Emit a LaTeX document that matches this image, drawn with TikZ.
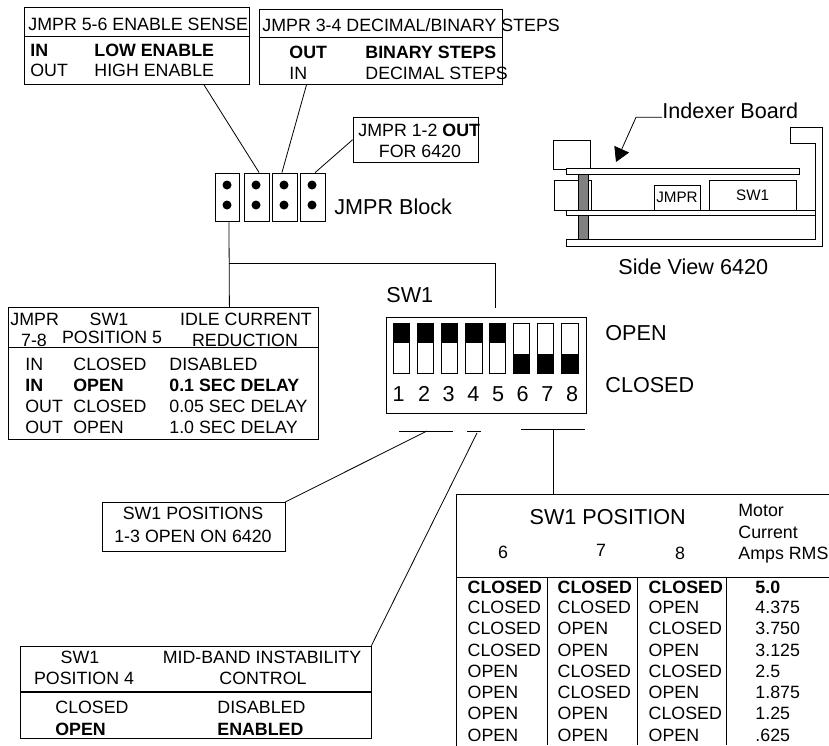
\documentclass[tikz,border=0pt]{standalone}
\usepackage{fontspec}
\setmainfont{Liberation Sans}
\usepackage{tikz}
\usetikzlibrary{arrows.meta}
\newcommand{\smtxt}{\fontsize{17.8}{20}\selectfont}
\newcommand{\bgtxt}{\fontsize{21.6}{24}\selectfont}
\newcommand{\tntxt}{\fontsize{15.2}{17}\selectfont}

\begin{document}
\begin{tikzpicture}[x=1pt, y=-1pt, line width=.8pt]

\tikzstyle{box} = [rectangle, draw, inner sep=0]
\tikzstyle{txt} = [inner sep=0, font=\smtxt, text height=12.8pt, text depth=0pt]
\tikzstyle{ltxt} = [txt, anchor=west]
\tikzstyle{big} = [inner sep=0, anchor=west, font=\bgtxt, text height=15.5pt, text depth=0pt]
\tikzstyle{pin} = [circle, fill=black, inner sep=0, minimum size=9pt]
\tikzstyle{slot} = [rectangle, draw, inner sep=0, minimum width=16.5pt, minimum height=50pt]

\useasboundingbox (0,0) rectangle (829,745);

% jumper notes along the top
\node[box, minimum width=225.5pt, minimum height=76.5pt] (sense) at (136.75,45.75) {};
\node[box, minimum width=243pt, minimum height=75pt] (steps) at (381,46.5) {};
\node[box, minimum width=125.5pt, minimum height=45.5pt] (six) at (415.75,139.75) {};
\draw (sense.west |- 0,36) -- (sense.east |- 0,36);
\draw (steps.west |- 0,37) -- (steps.east |- 0,37);

\node[ltxt] (senset) at (28,24) {JMPR 5-6 ENABLE SENSE};
\node[ltxt] (sensea) at (30,50) {\bfseries IN};
\node[ltxt] (senseb) at (94,50) {\bfseries LOW ENABLE};
\node[ltxt] (sensec) at (30,70) {OUT};
\node[ltxt] (sensed) at (94,70) {HIGH ENABLE};

\node[ltxt] (stepst) at (262,25.5) {JMPR 3-4 DECIMAL/BINARY STEPS};
\node[ltxt] (stepsa) at (289,52.5) {\bfseries OUT};
\node[ltxt] (stepsb) at (365,52.5) {\bfseries BINARY STEPS};
\node[ltxt] (stepsc) at (289,73) {IN};
\node[ltxt] (stepsd) at (365,73) {DECIMAL STEPS};

\node[ltxt] (sixa) at (358,130) {JMPR 1-2 \bfseries OUT};
\node[txt] (sixb) at (420,151) {FOR 6420};

% jumper block
\node[box, minimum width=24.5pt, minimum height=48pt] (ja) at (227.25,197) {};
\node[box, minimum width=25pt, minimum height=48pt] (jb) at (257,197) {};
\node[box, minimum width=25pt, minimum height=48pt] (jc) at (284.5,197) {};
\node[box, minimum width=25pt, minimum height=48pt] (jd) at (312.5,197) {};
\foreach \n/\x in {a/227, b/256, c/284, d/312} {
  \node[pin] (p\n) at (\x,185) {};
  \node[pin] (q\n) at (\x,205) {};
}
\node[big] (block) at (334,207) {JMPR Block};

\draw (sense.-30.4) -- (jb.85);
\draw (steps.-153.4) -- (jc.96);
\draw (six.west) -- (jd.84);

% side view
\draw (566.7,239) -- (815,239) -- (815,143.3) -- (790.7,143.3) -- (790.7,127.7)
  -- (822.7,127.7) -- (822.7,246.7) -- (566.7,246.7) -- cycle;
\draw (553,140) rectangle (590,169);
\draw (554,180.7) rectangle (591.5,210.7);
\draw[fill=gray] (578,174.3) rectangle (588,239);
\draw[fill=white] (566.5,168.7) rectangle (799,174.3);
\draw[fill=white] (566.7,210.7) rectangle (815,215.3);
\node[box, minimum width=46pt, minimum height=25.7pt] (jbox) at (677.3,197.85) {};
\node[box, minimum width=87pt, minimum height=30pt] (swbox) at (752.5,195.7) {};
\node[inner sep=0, font=\tntxt] (jtxt) at (677,197.7) {JMPR};
\node[inner sep=0, font=\tntxt] (swtxt) at (752.7,195) {SW1};
\node[big] (board) at (662,110.7) {Indexer Board};
\coordinate (tipa) at (616,162);
\draw[-{Triangle[length=14pt,width=16pt]}] (board.west |- 0,117.3) -- (636,117.3) -- (tipa);
\node[big] (side) at (618,267) {Side View 6420};

% idle current table
\node[box, minimum width=310.5pt, minimum height=131.5pt] (idle) at (163.25,373.25) {};
\draw (idle.west |- 0,347.7) -- (idle.east |- 0,347.7);
\node[ltxt] (ia) at (10,319) {JMPR};
\node[txt] (ib) at (109,319) {SW1};
\node[txt] (ic) at (246,319) {IDLE CURRENT};
\node[txt] (id) at (34,340) {7-8};
\node[txt] (ie) at (112,337) {POSITION 5};
\node[txt] (if) at (245,340) {REDUCTION};
\foreach \i/\y/\a/\b/\c in {1/364/IN/CLOSED/DISABLED,
                            2/385/\textbf{IN}/\textbf{OPEN}/\textbf{0.1 SEC DELAY},
                            3/406/OUT/CLOSED/0.05 SEC DELAY,
                            4/427/OUT/OPEN/1.0 SEC DELAY} {
  \node[ltxt] (ra\i) at (25,\y) {\a};
  \node[ltxt] (rb\i) at (73,\y) {\b};
  \node[ltxt] (rc\i) at (169,\y) {\c};
}

\coordinate (jct) at (229,263);
\coordinate (sweep) at (495,263);
\coordinate (swtop) at (495,307.5);
\draw (ja.-86) -- (idle.45);
\draw (jct) -- (sweep) -- (swtop);

% dip switch
\node[big] (swname) at (386,295) {SW1};
\node[box, minimum width=200pt, minimum height=96pt] (dip) at (486,365) {};
\foreach \i/\x/\d in {1/401.5/398.7, 2/425.5/424, 3/449.5/448.7, 4/474/473.3,
                      5/497.5/498, 6/521.5/522.7, 7/545.5/547.3, 8/570/572} {
  \node[slot] (s\i) at (\x,348.6) {};
  \node[inner sep=0, font=\bgtxt] (n\i) at (\d,394) {\i};
}
\foreach \i in {1,...,5} {
  \fill (s\i.north west) rectangle ([yshift=-19.5pt]s\i.north east);
}
\foreach \i in {6,7,8} {
  \fill (s\i.south west) rectangle ([yshift=20.5pt]s\i.south east);
}
\node[big] (open) at (605,333) {OPEN};
\node[big] (closed) at (605,385) {CLOSED};

\coordinate (ba) at (399,431);
\coordinate (bb) at (453,431);
\coordinate (bc) at (467,431);
\coordinate (bd) at (481,431);
\coordinate (be) at (521,429.5);
\coordinate (bf) at (585,429.5);
\coordinate (bam) at (427,431);
\coordinate (bcm) at (477,433);
\coordinate (bem) at (553,429.5);
\draw (ba) -- (bb);
\draw (bc) -- (bd);
\draw (be) -- (bf);

% notes under the switch
\node[box, minimum width=182.5pt, minimum height=49.4pt] (onsix) at (193.75,527) {};
\node[txt] (onsixa) at (193,513.3) {SW1 POSITIONS};
\node[txt] (onsixb) at (193,536) {1-3 OPEN ON 6420};
\draw (onsix.north east) -- (bam);

\node[box, minimum width=350.5pt, minimum height=92pt] (mid) at (195.75,692) {};
\draw (mid.west |- 0,691.2) -- (mid.east |- 0,691.2);
\draw (mid.west |- 0,692.8) -- (mid.east |- 0,692.8);
\node[txt] (mida) at (80,657) {SW1};
\node[txt] (midb) at (262,657) {MID-BAND INSTABILITY};
\node[txt] (midc) at (84,678.5) {POSITION 4};
\node[txt] (midd) at (263,678.5) {CONTROL};
\node[ltxt] (mide) at (55,707) {CLOSED};
\node[ltxt] (midf) at (217,707) {DISABLED};
\node[ltxt] (midg) at (55,729) {\bfseries OPEN};
\node[ltxt] (midh) at (217,729) {\bfseries ENABLED};
\draw (mid.north east) -- (bcm);

% motor current table
\node[box, minimum width=383.3pt, minimum height=261pt] (motor) at (648.35,624.5) {};
\draw (motor.west |- 0,577) -- (motor.east |- 0,577);
\draw (547.3,577) -- (547.3,745);
\draw (637.3,577) -- (637.3,745);
\draw (726.7,577) -- (726.7,745);
\draw (bem) -- (bem |- motor.north);
\node[inner sep=0, font=\bgtxt] (mhead) at (607.7,517) {SW1 POSITION};
\node[txt] (mh6) at (503,551.7) {6};
\node[txt] (mh7) at (601,550) {7};
\node[txt] (mh8) at (680,553) {8};
\node[ltxt] (mot) at (738,510) {Motor};
\node[ltxt] (cur) at (738,531.7) {Current};
\node[ltxt] (amp) at (738,553) {Amps RMS};
\foreach \i/\y/\a/\b/\c/\d in {1/586.7/\textbf{CLOSED}/\textbf{CLOSED}/\textbf{CLOSED}/\textbf{5.0},
                               2/607/CLOSED/CLOSED/OPEN/4.375,
                               3/628/CLOSED/OPEN/CLOSED/3.750,
                               4/650/CLOSED/OPEN/OPEN/3.125,
                               5/671/OPEN/CLOSED/CLOSED/2.5,
                               6/692/OPEN/CLOSED/OPEN/1.875,
                               7/713/OPEN/OPEN/CLOSED/1.25,
                               8/735/OPEN/OPEN/OPEN/.625} {
  \node[ltxt] (ma\i) at (467.3,\y) {\a};
  \node[ltxt] (mb\i) at (557.3,\y) {\b};
  \node[ltxt] (mc\i) at (648.3,\y) {\c};
  \node[ltxt] (md\i) at (755,\y) {\d};
}
\end{tikzpicture}
\end{document}
